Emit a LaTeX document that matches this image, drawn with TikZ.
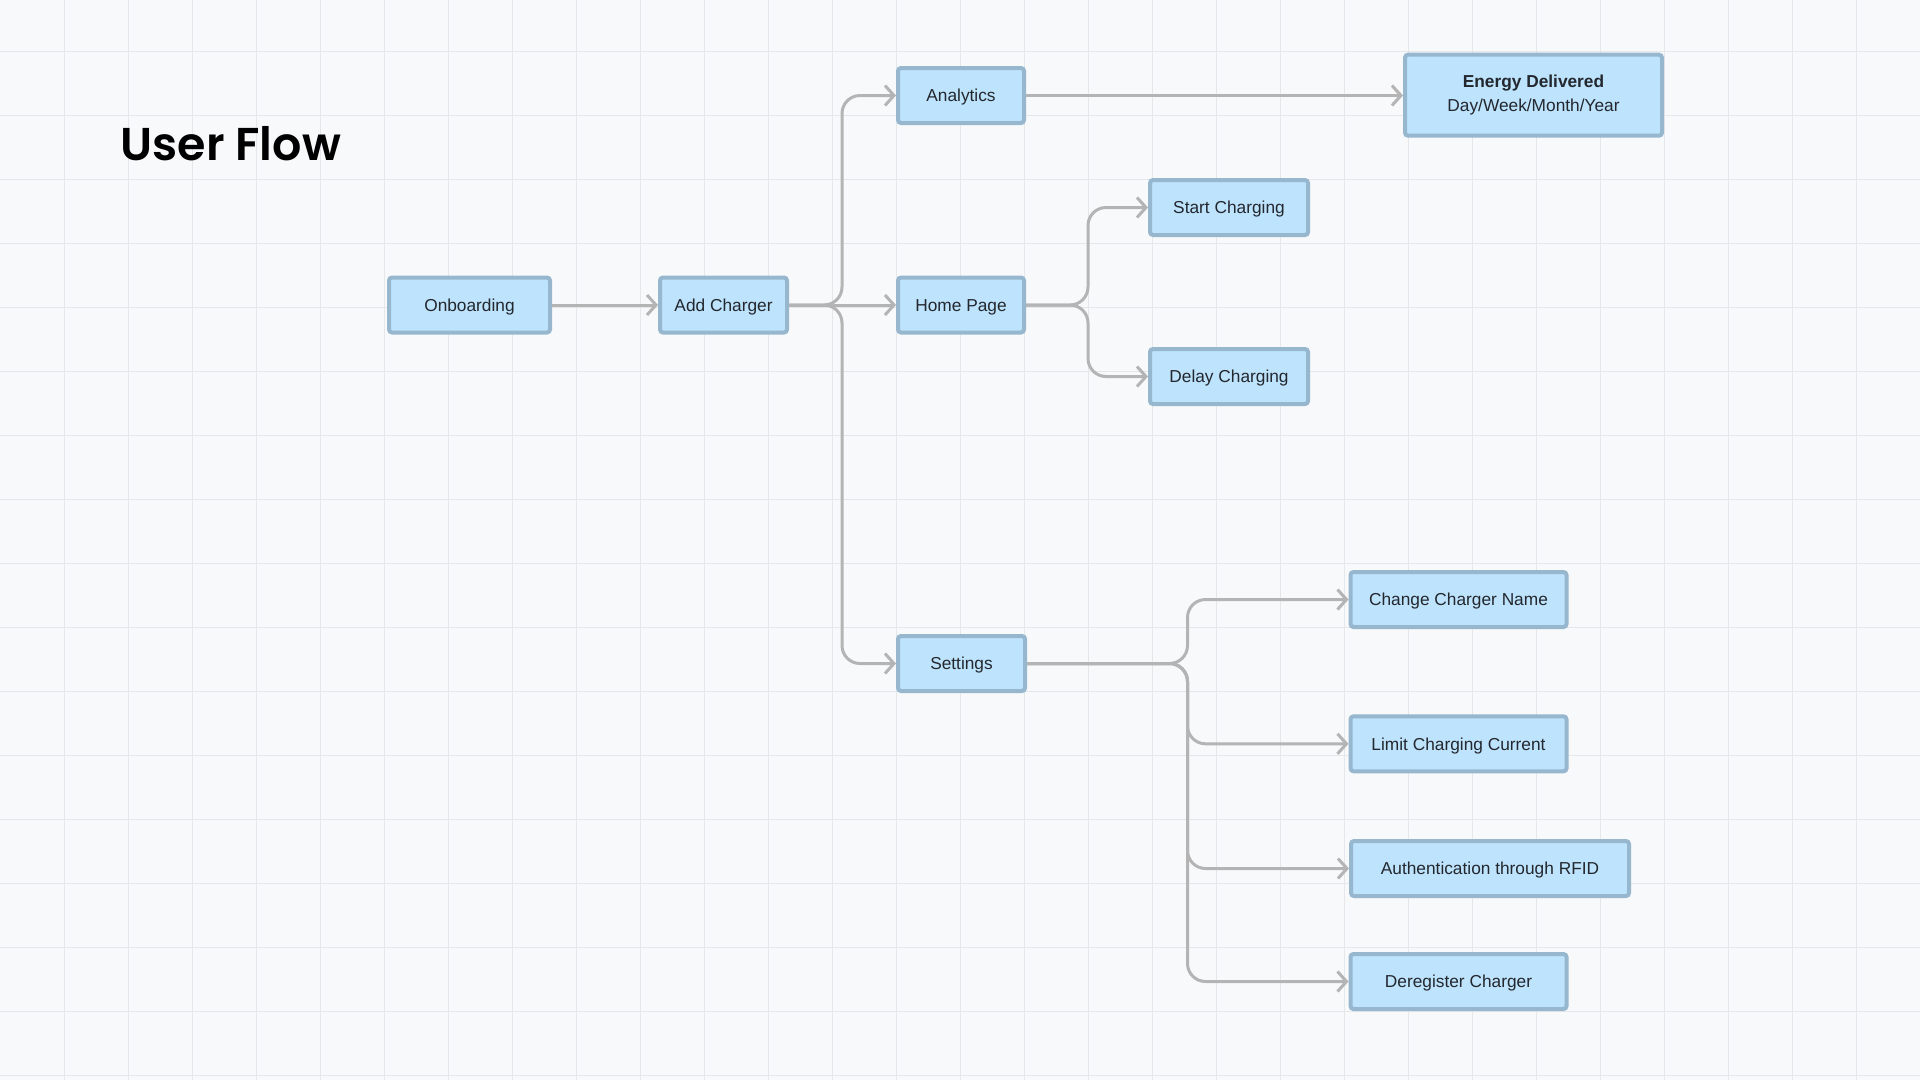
\documentclass[tikz,border=0pt]{standalone}
\usepackage{fontspec}
\setmainfont{Liberation Sans}
\newfontfamily\titlefont{Poppins SemiBold}
\usetikzlibrary{arrows.meta}
\definecolor{bgc}{HTML}{F8F9FB}
\definecolor{gridc}{HTML}{E6E7EB}
\definecolor{boxfill}{HTML}{BEE3FC}
\definecolor{boxline}{HTML}{97B7CF}
\definecolor{connc}{HTML}{B4B4B4}
\definecolor{txtc}{HTML}{23272E}
\tikzset{
  box/.style={draw=boxline, fill=boxfill, line width=4pt, rounded corners=3pt,
    minimum height=55pt, inner sep=0pt, text=txtc, align=center,
    text height=12.4pt, text depth=0pt,
    font=\fontsize{17.3}{25}\selectfont},
  conn/.style={draw=connc, line width=3pt, rounded corners=18pt,
    -{Straight Barb[length=9pt,width=20pt]}},
}
\begin{document}
\begin{tikzpicture}[x=1pt,y=-1pt]
\useasboundingbox (0,0) rectangle (1920,1080);
\fill[bgc] (0,0) rectangle (1920,1080);
\foreach \i in {1,...,29} {\draw[gridc, line width=1pt] (64*\i,0) -- (64*\i,1080);}
\foreach \j in {0,...,16} {\draw[gridc, line width=1pt] (0,51+64*\j) -- (1920,51+64*\j);}

\node[anchor=west, text=black, font=\titlefont\fontsize{46}{52}\selectfont] (title) at (117,144) {User Flow};

\node[box, minimum width=161pt] (onb) at (469.5,305) {Onboarding};
\node[box, minimum width=127pt] (add) at (723.5,305) {Add Charger};
\node[box, minimum width=126pt] (ana) at (961,95.5) {Analytics};
\node[box, minimum width=126pt] (home) at (961,305) {Home Page};
\node[box, minimum width=127pt] (set) at (961.5,663.5) {Settings};
\node[box, minimum width=257pt, minimum height=81pt, text height=, text depth=] (energy) at (1533.5,95.2) {\textbf{Energy Delivered}\\[-0.5pt]Day/Week/Month/Year};
\node[box, minimum width=158pt] (start) at (1229,207.5) {Start Charging};
\node[box, minimum width=158pt] (delay) at (1229,376.5) {Delay Charging};
\node[box, minimum width=216pt] (ccn) at (1458.5,599.5) {Change Charger Name};
\node[box, minimum width=216pt] (lcc) at (1458.5,743.8) {Limit Charging Current};
\node[box, minimum width=278pt] (auth) at (1490,868.5) {Authentication through RFID};
\node[box, minimum width=216pt] (dereg) at (1458.5,981.5) {Deregister Charger};

\coordinate (f1) at (842,305);
\coordinate (f2) at (1088,305);
\coordinate (f3) at (1187.5,663.5);

\draw[conn] (onb.east) -- (add.west);
\draw[conn] (add.east) -- (f1) |- (ana.west);
\draw[conn] (add.east) -- (home.west);
\draw[conn] (add.east) -- (f1) |- (set.west);
\draw[conn] (ana.east) -- (ana.east -| energy.west);
\draw[conn] (home.east) -- (f2) |- (start.west);
\draw[conn] (home.east) -- (f2) |- (delay.west);
\draw[conn] (set.east) -- (f3) |- (ccn.west);
\draw[conn] (set.east) -- (f3) |- (lcc.west);
\draw[conn] (set.east) -- (f3) |- (auth.west);
\draw[conn] (set.east) -- (f3) |- (dereg.west);
\end{tikzpicture}
\end{document}
